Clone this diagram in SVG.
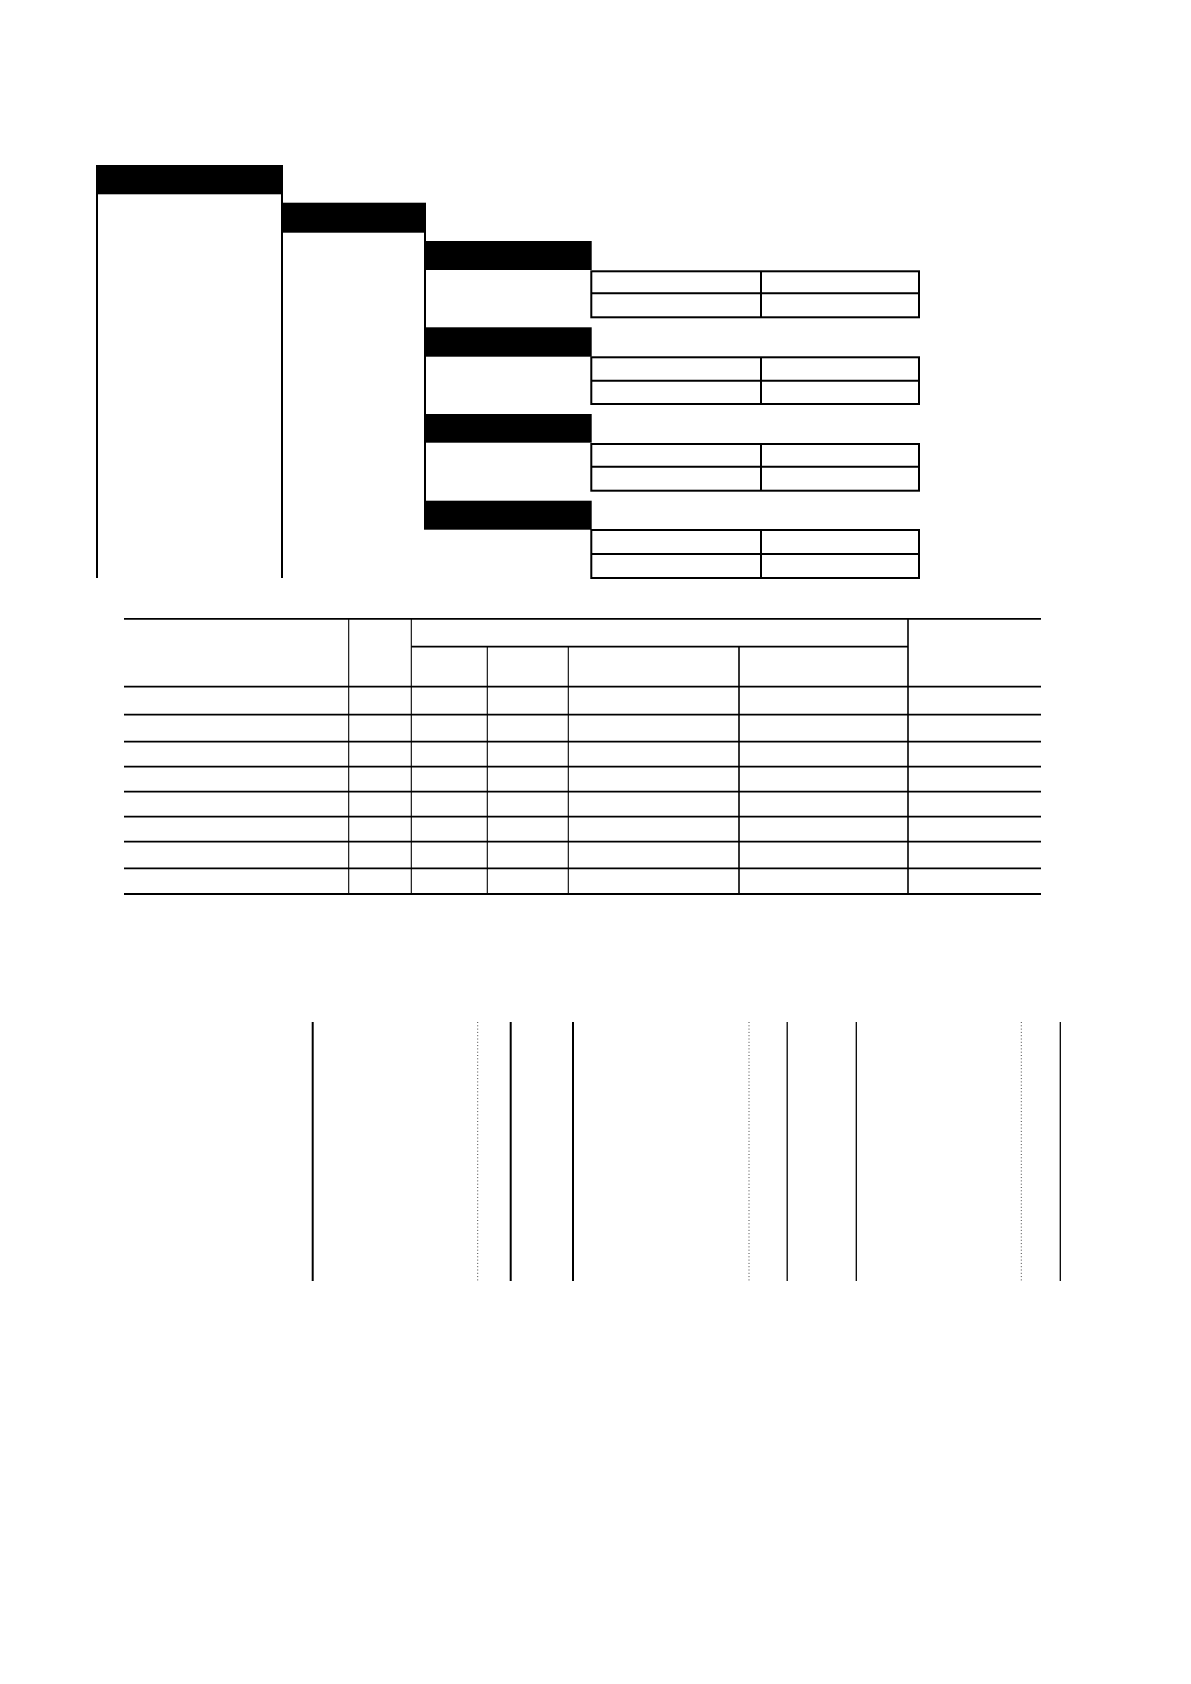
<svg xmlns="http://www.w3.org/2000/svg" width="1191" height="1684" viewBox="0 0 1191 1684">
<style>
.bar{fill:#000}
.ln{stroke:#000;stroke-width:2;fill:none}
.tb{stroke:#000;stroke-width:2;fill:none}
.h{stroke:#000;stroke-width:1.8}
.v{stroke:#000;stroke-width:1.1}
.vm{stroke:#000;stroke-width:1.6}
.vs{stroke:#000;stroke-width:2}
.vt{stroke:#000;stroke-width:1.3}
.dot{stroke:#444;stroke-width:1;stroke-dasharray:1 2.3}
</style>
<rect width="1191" height="1684" fill="#fff"/>
<g id="tree">
  <g id="col1">
    <rect class="bar" x="96" y="165" width="187" height="29.3"/>
    <line class="ln" x1="97" y1="194" x2="97" y2="578"/>
    <line class="ln" x1="282" y1="194" x2="282" y2="578"/>
  </g>
  <g id="col2">
    <rect class="bar" x="282" y="202.7" width="144" height="30"/>
    <line class="ln" x1="425" y1="232" x2="425" y2="501"/>
  </g>
  <g id="col3">
    <rect class="bar" x="424" y="241" width="167.7" height="29"/>
    <rect class="bar" x="424" y="327.3" width="167.7" height="29.4"/>
    <rect class="bar" x="424" y="414" width="167.7" height="28.7"/>
    <rect class="bar" x="424" y="500.7" width="167.7" height="29"/>
  </g>
  <g id="t1">
    <rect class="tb" x="591.3" y="271.3" width="327.7" height="46"/>
    <line class="tb" x1="591.3" y1="293.3" x2="919" y2="293.3"/>
    <line class="tb" x1="761" y1="271.3" x2="761" y2="317.3"/>
  </g>
  <g id="t2">
    <rect class="tb" x="591.3" y="357.3" width="327.7" height="46.7"/>
    <line class="tb" x1="591.3" y1="380.7" x2="919" y2="380.7"/>
    <line class="tb" x1="761" y1="357.3" x2="761" y2="404"/>
  </g>
  <g id="t3">
    <rect class="tb" x="591.3" y="444" width="327.7" height="46.7"/>
    <line class="tb" x1="591.3" y1="466.7" x2="919" y2="466.7"/>
    <line class="tb" x1="761" y1="444" x2="761" y2="490.7"/>
  </g>
  <g id="t4">
    <rect class="tb" x="591.3" y="530" width="327.7" height="48"/>
    <line class="tb" x1="591.3" y1="554" x2="919" y2="554"/>
    <line class="tb" x1="761" y1="530" x2="761" y2="578"/>
  </g>
</g>
<g id="table">
  <line class="h" x1="124" y1="618.8" x2="1041" y2="618.8"/>
  <line class="h" x1="411.3" y1="646.7" x2="908" y2="646.7"/>
  <line class="h" x1="124" y1="686.7" x2="1041" y2="686.7"/>
  <line class="h" x1="124" y1="714.7" x2="1041" y2="714.7"/>
  <line class="h" x1="124" y1="741.7" x2="1041" y2="741.7"/>
  <line class="h" x1="124" y1="766.7" x2="1041" y2="766.7"/>
  <line class="h" x1="124" y1="791.7" x2="1041" y2="791.7"/>
  <line class="h" x1="124" y1="816.7" x2="1041" y2="816.7"/>
  <line class="h" x1="124" y1="841.7" x2="1041" y2="841.7"/>
  <line class="h" x1="124" y1="868.3" x2="1041" y2="868.3"/>
  <line class="h" x1="124" y1="894" x2="1041" y2="894"/>
  <line class="v" x1="348.7" y1="618.8" x2="348.7" y2="894"/>
  <line class="v" x1="411.3" y1="618.8" x2="411.3" y2="894"/>
  <line class="v" x1="487.3" y1="646.7" x2="487.3" y2="894"/>
  <line class="v" x1="568.3" y1="646.7" x2="568.3" y2="894"/>
  <line class="vm" x1="739" y1="646.7" x2="739" y2="894"/>
  <line class="vm" x1="908" y1="618.8" x2="908" y2="894"/>
</g>
<g id="lanes">
  <line class="vs" x1="312.7" y1="1022" x2="312.7" y2="1281"/>
  <line class="dot" x1="477.7" y1="1022" x2="477.7" y2="1281"/>
  <line class="vs" x1="510.7" y1="1022" x2="510.7" y2="1281"/>
  <line class="vs" x1="573" y1="1022" x2="573" y2="1281"/>
  <line class="dot" x1="749" y1="1022" x2="749" y2="1281"/>
  <line class="vt" x1="787.2" y1="1022" x2="787.2" y2="1281"/>
  <line class="vt" x1="856.3" y1="1022" x2="856.3" y2="1281"/>
  <line class="dot" x1="1021.3" y1="1022" x2="1021.3" y2="1281"/>
  <line class="vt" x1="1060.3" y1="1022" x2="1060.3" y2="1281"/>
</g>
</svg>
